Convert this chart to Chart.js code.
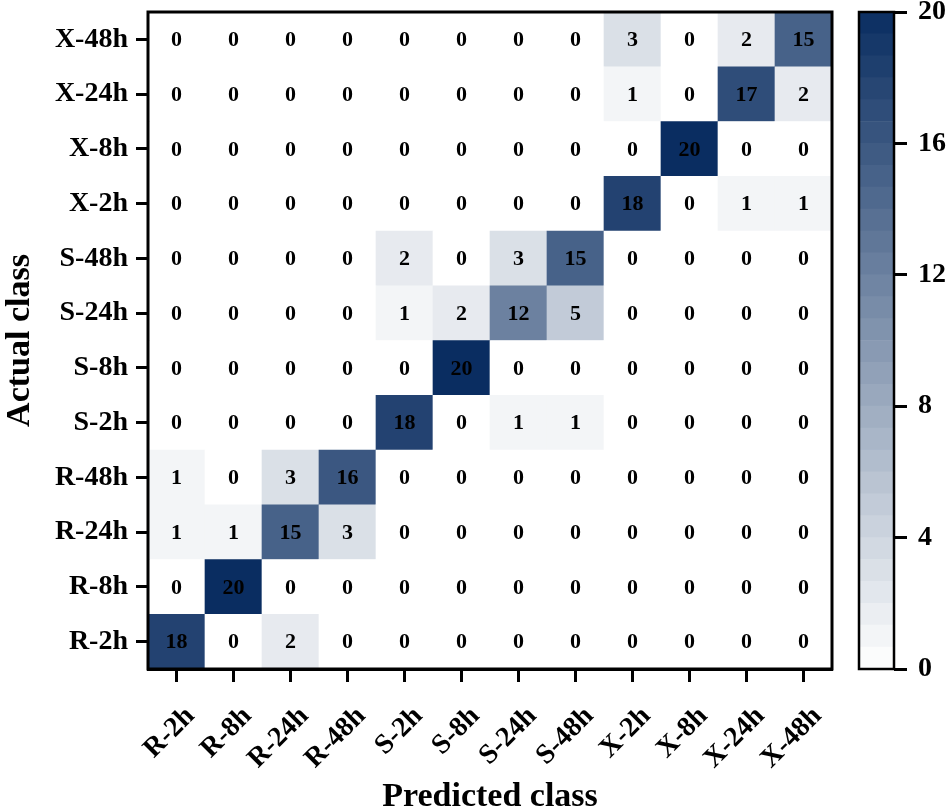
<!DOCTYPE html>
<html>
<head>
<meta charset="utf-8">
<script src="https://cdn.jsdelivr.net/npm/chart.js@4.4.1/dist/chart.umd.min.js"></script>
<style>
    body { margin: 0; background: #fff; }
    #wrap { position: relative; width: 952px; height: 811px; }
    #matrix { position: absolute; left: 0; top: 0; }
    #colorbar { position: absolute; left: 850px; top: 0; }
</style>
</head>
<body>
<div id="wrap">
    <canvas id="matrix" width="952" height="811"></canvas>
    <canvas id="colorbar" width="102" height="811"></canvas>
</div>
<script>
// Class names (x axis = predicted, y axis = actual, bottom to top)
const classes = ['R-2h', 'R-8h', 'R-24h', 'R-48h', 'S-2h', 'S-8h', 'S-24h', 'S-48h', 'X-2h', 'X-8h', 'X-24h', 'X-48h'];

// Counts per actual class, in the order of predicted classes
const actualR2h  = [18, 0, 2, 0, 0, 0, 0, 0, 0, 0, 0, 0];
const actualR8h  = [0, 20, 0, 0, 0, 0, 0, 0, 0, 0, 0, 0];
const actualR24h = [1, 1, 15, 3, 0, 0, 0, 0, 0, 0, 0, 0];
const actualR48h = [1, 0, 3, 16, 0, 0, 0, 0, 0, 0, 0, 0];
const actualS2h  = [0, 0, 0, 0, 18, 0, 1, 1, 0, 0, 0, 0];
const actualS8h  = [0, 0, 0, 0, 0, 20, 0, 0, 0, 0, 0, 0];
const actualS24h = [0, 0, 0, 0, 1, 2, 12, 5, 0, 0, 0, 0];
const actualS48h = [0, 0, 0, 0, 2, 0, 3, 15, 0, 0, 0, 0];
const actualX2h  = [0, 0, 0, 0, 0, 0, 0, 0, 18, 0, 1, 1];
const actualX8h  = [0, 0, 0, 0, 0, 0, 0, 0, 0, 20, 0, 0];
const actualX24h = [0, 0, 0, 0, 0, 0, 0, 0, 1, 0, 17, 2];
const actualX48h = [0, 0, 0, 0, 0, 0, 0, 0, 3, 0, 2, 15];

const matrixRows = [actualR2h, actualR8h, actualR24h, actualR48h, actualS2h, actualS8h,
                    actualS24h, actualS48h, actualX2h, actualX8h, actualX24h, actualX48h];

// Colour bar
const colorbarTicks = [0, 4, 8, 12, 16, 20];
const colorbarMax = 20;
const colorbarSteps = 30;

const FONT = "'Liberation Serif', 'Times New Roman', serif";
Chart.defaults.color = '#000';
Chart.defaults.font.family = FONT;

const lowColor = [255, 255, 255];
const highColor = [10, 45, 97];

function cmap(v) {
    const t = Math.max(0, Math.min(1, v / colorbarMax));
    const c = lowColor.map((lo, i) => Math.round(lo + (highColor[i] - lo) * t));
    return `rgb(${c[0]}, ${c[1]}, ${c[2]})`;
}

// numbers in the cells + box around the plot area
const cellText = {
    id: 'cellText',
    afterDatasetsDraw(chart) {
        const ctx = chart.ctx;
        ctx.save();
        ctx.fillStyle = '#000';
        ctx.font = `bold 22px ${FONT}`;
        ctx.textAlign = 'center';
        ctx.textBaseline = 'middle';
        chart.data.datasets.forEach((ds, di) => {
            const meta = chart.getDatasetMeta(di);
            meta.data.forEach((bar, i) => {
                ctx.fillText(String(matrixRows[di][i]), bar.x, (bar.y + bar.base) / 2 + 1);
            });
        });
        const a = chart.chartArea;
        ctx.strokeStyle = '#000';
        ctx.lineWidth = 3;
        ctx.strokeRect(a.left, a.top, a.right - a.left, a.bottom - a.top);
        ctx.restore();
    }
};

const frame = {
    id: 'frame',
    afterDatasetsDraw(chart) {
        const ctx = chart.ctx;
        const a = chart.chartArea;
        ctx.save();
        ctx.strokeStyle = '#000';
        ctx.lineWidth = 2.5;
        ctx.strokeRect(a.left, a.top, a.right - a.left, a.bottom - a.top);
        ctx.restore();
    }
};

new Chart(document.getElementById('matrix'), {
    type: 'bar',
    data: {
        labels: classes,
        datasets: matrixRows.map((row, r) => ({
            label: classes[r],
            data: row.map(() => 1),
            backgroundColor: row.map(v => cmap(v)),
            borderWidth: 0,
            barPercentage: 1,
            categoryPercentage: 1
        }))
    },
    options: {
        responsive: false,
        animation: false,
        layout: { padding: { top: 12, right: 120, left: 0, bottom: 0 } },
        plugins: {
            legend: { display: false },
            tooltip: { enabled: false }
        },
        scales: {
            x: {
                stacked: true,
                grid: {
                    offset: false,
                    drawOnChartArea: false,
                    tickLength: 13,
                    tickWidth: 3,
                    tickColor: '#000'
                },
                border: { display: true, color: '#000', width: 3 },
                ticks: {
                    minRotation: 45,
                    maxRotation: 45,
                    autoSkip: false,
                    padding: 18,
                    labelOffset: 14,
                    font: { size: 28, weight: 'bold' }
                },
                title: {
                    display: true,
                    text: 'Predicted class',
                    font: { size: 34, weight: 'bold', lineHeight: 0.8 },
                    padding: { top: 0, bottom: 0 }
                },
                afterFit: (scale) => {
                    scale.height = 142;
                    scale.paddingLeft = 0;
                    scale.paddingRight = 0;
                }
            },
            y: {
                stacked: true,
                min: 0,
                max: 12,
                afterBuildTicks: (scale) => {
                    scale.ticks = classes.map((c, i) => ({ value: i + 0.5 }));
                },
                grid: {
                    drawOnChartArea: false,
                    tickLength: 12,
                    tickWidth: 3,
                    tickColor: '#000'
                },
                border: { display: true, color: '#000', width: 3 },
                ticks: {
                    padding: 8,
                    font: { size: 28, weight: 'bold' },
                    callback: (v) => classes[Math.floor(v)]
                },
                title: {
                    display: true,
                    text: 'Actual class',
                    font: { size: 34, weight: 'bold' },
                    padding: { top: 0, bottom: 0 }
                },
                afterFit: (scale) => {
                    scale.width = 148;
                    scale.paddingTop = 0;
                    scale.paddingBottom = 0;
                }
            }
        }
    },
    plugins: [cellText]
});

const stepValue = colorbarMax / colorbarSteps;
const bandDatasets = [];
for (let k = 0; k < colorbarSteps; k++) {
    bandDatasets.push({
        data: [stepValue],
        backgroundColor: cmap((k + 0.5) * stepValue),
        borderWidth: 0,
        barPercentage: 1,
        categoryPercentage: 1
    });
}

new Chart(document.getElementById('colorbar'), {
    type: 'bar',
    data: { labels: [''], datasets: bandDatasets },
    options: {
        responsive: false,
        animation: false,
        layout: { padding: { top: 12, bottom: 142, left: 9, right: 0 } },
        plugins: {
            legend: { display: false },
            tooltip: { enabled: false }
        },
        scales: {
            x: { display: false, stacked: true },
            y: {
                stacked: true,
                position: 'right',
                min: 0,
                max: colorbarMax,
                afterBuildTicks: (scale) => {
                    scale.ticks = colorbarTicks.map(v => ({ value: v }));
                },
                grid: {
                    drawOnChartArea: false,
                    tickLength: 13,
                    tickWidth: 3,
                    tickColor: '#000'
                },
                border: { display: false },
                ticks: {
                    padding: 11,
                    font: { size: 28, weight: 'bold' }
                },
                afterFit: (scale) => {
                    scale.width = 58;
                    scale.paddingTop = 0;
                    scale.paddingBottom = 0;
                }
            }
        }
    },
    plugins: [frame]
});
</script>
</body>
</html>
